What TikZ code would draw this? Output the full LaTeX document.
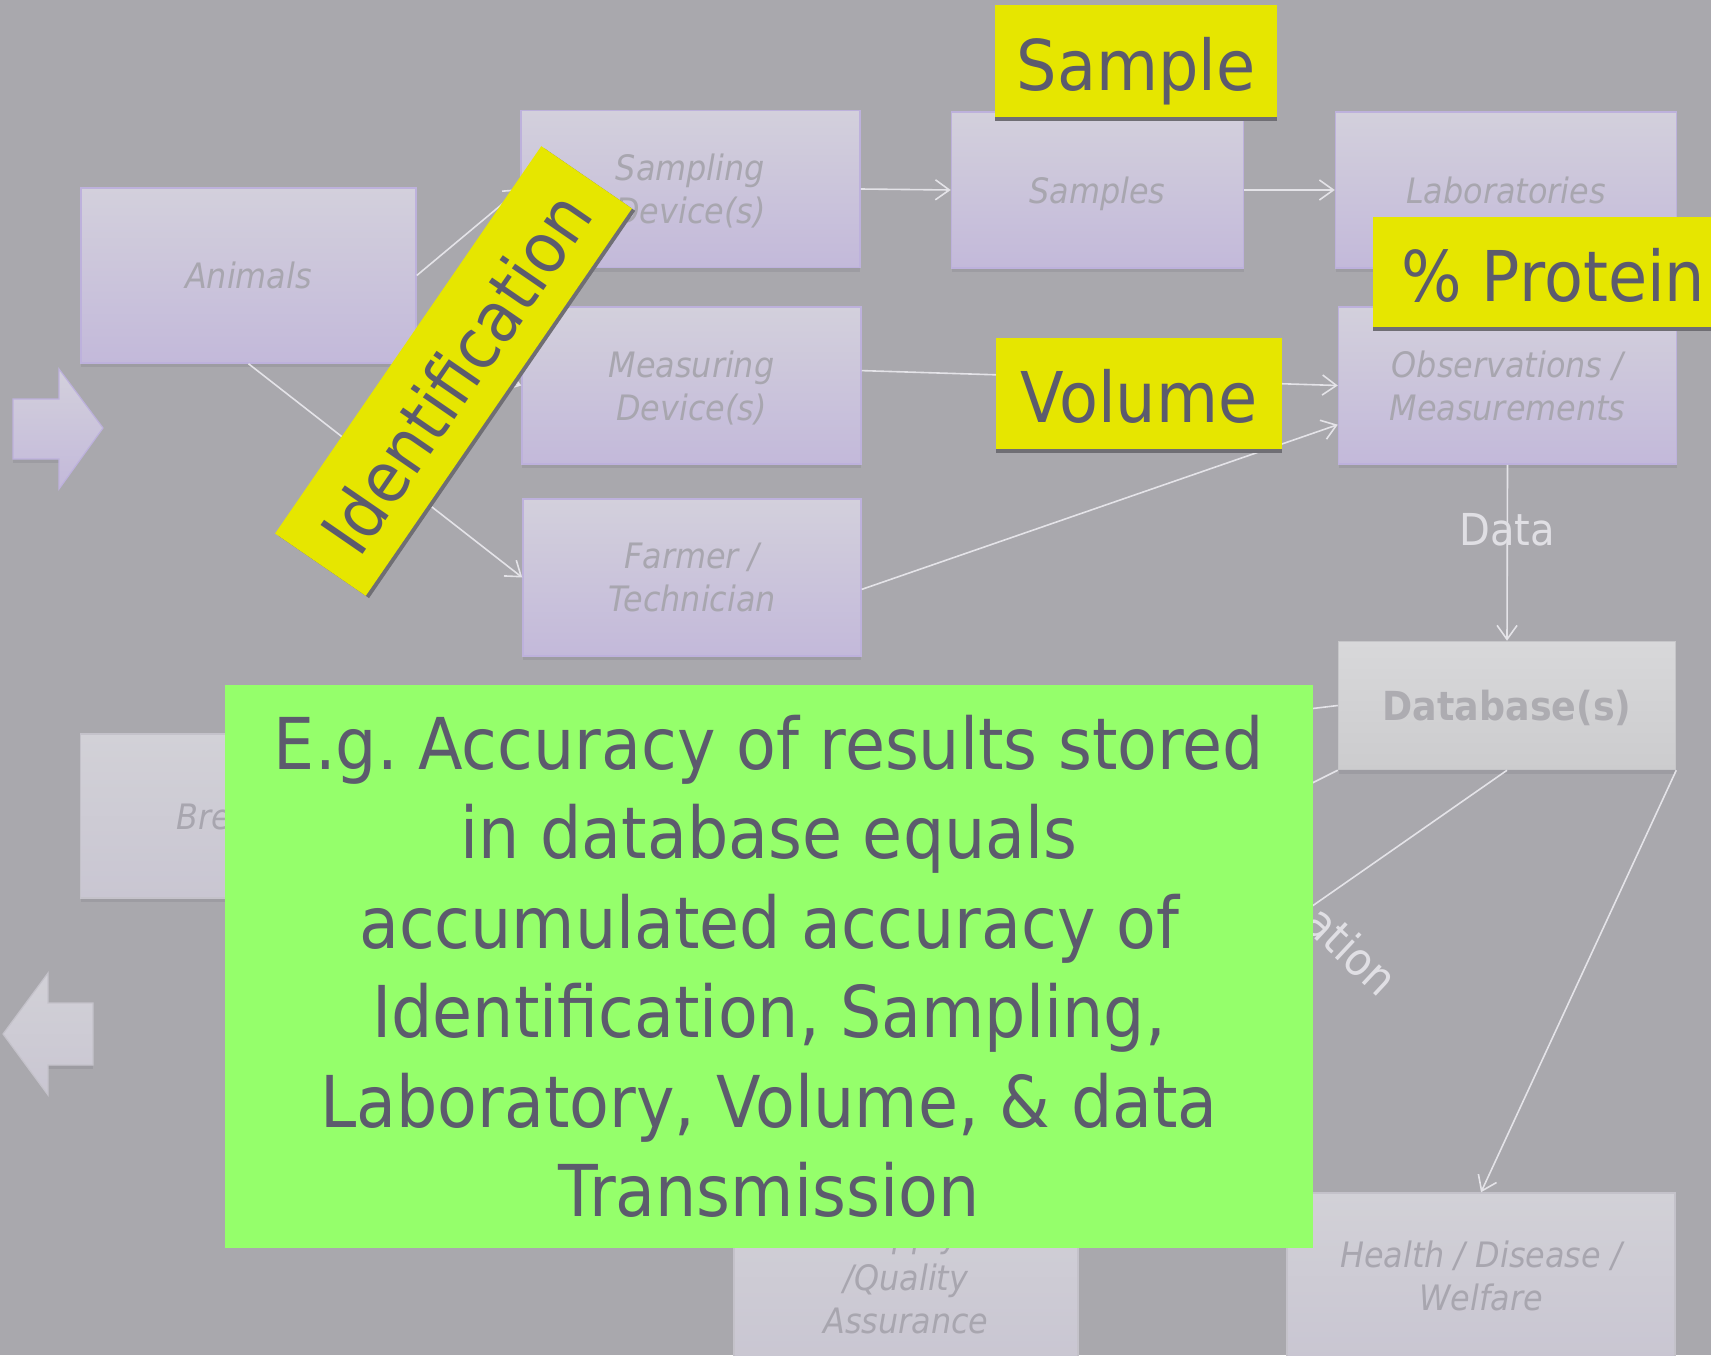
\documentclass[tikz,border=0pt]{standalone}
\usepackage{fontspec}
\setmainfont{DejaVu Sans}[FakeStretch=0.91]
\usetikzlibrary{arrows.meta,shadows}
\definecolor{bg}{HTML}{A9A8AD}
\definecolor{ptop}{HTML}{D3D0DC}
\definecolor{pbot}{HTML}{C3B9DA}
\definecolor{pborder}{HTML}{BDB1DC}
\definecolor{gtop}{HTML}{D2D1D7}
\definecolor{gbot}{HTML}{C9C6D2}
\definecolor{gborder}{HTML}{C4C2CA}
\definecolor{boxtext}{HTML}{A8A6AF}
\definecolor{shd}{HTML}{9D9CA2}
\definecolor{yel}{HTML}{E6E600}
\definecolor{ytext}{HTML}{5C5B6D}
\definecolor{yshd}{HTML}{6F6E74}
\definecolor{grn}{HTML}{95FF6B}
\definecolor{conn}{HTML}{E4E3E8}
\definecolor{dbtop}{HTML}{D8D8DA}
\definecolor{dbbot}{HTML}{CCCCCE}
\definecolor{dbborder}{HTML}{C6C6C9}
\definecolor{dbtext}{HTML}{ADACB1}
\definecolor{lbl}{HTML}{E0DFE4}
\frenchspacing
\begin{document}
\begin{tikzpicture}[x=1pt,y=-1pt,
  pbox/.style={rectangle, inner sep=0pt, shading=axis, top color=ptop, bottom color=pbot,
    draw=pborder, line width=1.5pt, text=boxtext, align=center, text depth=0pt,
    font=\fontsize{35}{43}\selectfont\itshape,
    drop shadow={shadow xshift=0pt, shadow yshift=-4pt, fill=shd, opacity=1}},
  gbox/.style={pbox, top color=gtop, bottom color=gbot, draw=gborder},
  dbbox/.style={rectangle, inner sep=0pt, shading=axis, top color=dbtop, bottom color=dbbot,
    draw=dbborder, line width=1.5pt, text=dbtext, text depth=0pt,
    font=\fontsize{40}{48}\selectfont\bfseries,
    drop shadow={shadow xshift=0pt, shadow yshift=-4pt, fill=shd, opacity=1}},
  ybox/.style={rectangle, inner sep=0pt, fill=yel, text=ytext, text height=58pt, text depth=0pt,
    font=\fontsize{70}{84}\selectfont},
  yshadow/.style={rectangle, inner sep=0pt, fill=yshd},
  conn/.style={draw=conn, line width=1.6pt, -{Straight Barb[length=14pt,width=20pt]}},
  lbltext/.style={text=lbl, inner sep=0pt},
  blockarrow/.style={shading=axis, top color=ptop, bottom color=pbot, draw=pborder, line width=1.2pt},
  blockarrowg/.style={shading=axis, top color=gtop, bottom color=gbot, draw=gborder, line width=1.2pt}
]
\useasboundingbox (0,0) rectangle (1711,1355);
\fill[bg] (0,0) rectangle (1711,1355);
\clip (0,0) rectangle (1711,1355);

% block arrows
\fill[shd] (13,459) rectangle (59,463);
\path[blockarrow] (13,399) -- (59,399) -- (59,369) -- (103,428) -- (59,489) -- (59,459) -- (13,459) -- cycle;
\fill[shd] (48,1065) rectangle (93,1069);
\path[blockarrowg] (93,1003) -- (48,1003) -- (48,973) -- (3,1034) -- (48,1095) -- (48,1065) -- (93,1065) -- cycle;

% boxes
\node[pbox, minimum width=335pt, minimum height=175pt] (animals) at (248.5,275.5) {Animals};
\node[pbox, minimum width=339pt, minimum height=157pt] (sampling) at (690.5,189) {Sampling\\Device(s)};
\node[pbox, minimum width=339pt, minimum height=157pt] (measuring) at (691.5,385.5) {Measuring\\Device(s)};
\node[pbox, minimum width=338pt, minimum height=157pt] (farmer) at (692,577.5) {Farmer /\\Technician};
\node[pbox, minimum width=292pt, minimum height=156pt] (samples) at (1097.5,190) {Samples};
\node[pbox, minimum width=341pt, minimum height=156pt] (labs) at (1506,190) {Laboratories};
\node[pbox, minimum width=338pt, minimum height=157pt] (obs) at (1507.5,385.5) {Observations /\\Measurements};
\node[dbbox, minimum width=337pt, minimum height=128pt] (db) at (1507,705.5) {Database(s)};
\node[gbox, minimum width=335pt, minimum height=164pt] (breeding) at (248,816) {Breeding};
\node[gbox, minimum width=344pt, minimum height=174pt] (supply) at (906,1277) {Supply\\/Quality\\Assurance};
\node[gbox, minimum width=388pt, minimum height=166pt] (health) at (1481,1276) {Health / Disease /\\Welfare};

% connectors
\draw[conn] (animals.east) -- (sampling.west);
\draw[conn] (animals.-24) -- (measuring.west);
\draw[conn] (animals.south) -- (farmer.west);
\draw[conn] (sampling.east) -- (samples.west);
\draw[conn] (samples.east) -- (labs.west);
\draw[conn] (measuring.5) -- (obs.west);
\draw[conn] (farmer.-4) -- (obs.193.5);
\draw[conn] (obs.south) -- node[pos=0.37, lbltext, font=\fontsize{44}{50}\selectfont] (datalbl) {Data} (db.north);
\draw[conn] (db.west) -- (breeding.east);
\coordinate (hid) at (1000,939);
\draw[conn] (db.south west) -- (hid);
\draw[conn] (db.south) -- (supply.north);
\draw[conn] (db.south east) -- (health.north);
\node[lbltext, rotate=-43, font=\fontsize{46}{50}\selectfont] (ation) at (1352,950) {ation};

% yellow labels
\node[yshadow, minimum width=281.5pt, minimum height=112pt] (sampleshd) at (1136,65) {};
\node[ybox, minimum width=281.5pt, minimum height=112pt] (samplelbl) at (1136,61) {Sample};
\node[yshadow, minimum width=286.5pt, minimum height=111pt] (volumeshd) at (1139,397.5) {};
\node[ybox, minimum width=286.5pt, minimum height=111pt] (volumelbl) at (1139,393.5) {Volume};
\node[yshadow, anchor=west, minimum width=360pt, minimum height=110pt] (proteinshd) at (1373,276) {};
\node[ybox, anchor=west, minimum width=360pt, minimum height=110pt] (proteinlbl) at (1373,272) {\% Protein};
\node[yshadow, rotate=55.5, minimum width=470pt, minimum height=110pt] (identshd) at (456.8,373.3) {};
\node[ybox, rotate=55.5, minimum width=470pt, minimum height=110pt] (identlbl) at (453.5,371) {Identification};

% green note
\node[fill=grn, minimum width=1088pt, minimum height=563pt, inner sep=0pt, align=center,
  text=ytext, font=\fontsize{71.5}{89.5}\selectfont] (note) at (769,966.5)
  {E.g. Accuracy of results stored\\
   in database equals\\
   accumulated accuracy of\\
   Identification, Sampling,\\
   Laboratory, Volume, \& data\\
   Transmission};
\end{tikzpicture}
\end{document}
